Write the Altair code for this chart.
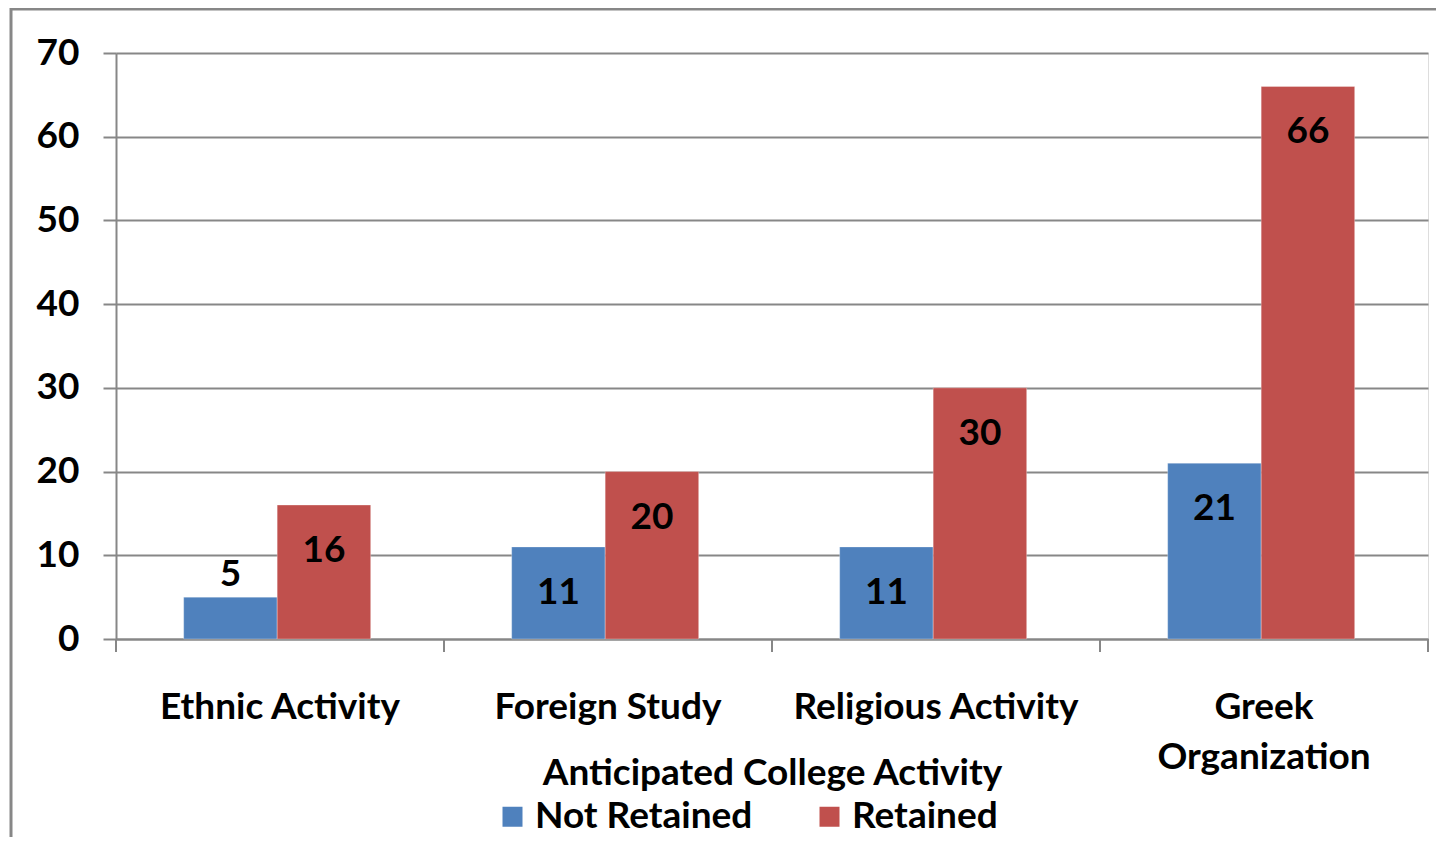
import altair as alt
import pandas as pd

categories = ["Ethnic Activity", "Foreign Study", "Religious Activity", "Greek Organization"]
series = ["Not Retained", "Retained"]
not_retained = [5, 11, 11, 21]
retained = [16, 20, 30, 66]
y_ticks = [0, 10, 20, 30, 40, 50, 60, 70]
colors = ["#4F81BD", "#C0504D"]
x_title = "Anticipated College Activity"

rows = []
for c, a, b in zip(categories, not_retained, retained):
    rows.append({"category": c, "series": series[0], "value": a})
    rows.append({"category": c, "series": series[1], "value": b})
df = pd.DataFrame(rows)
cat_df = pd.DataFrame({"category": categories})
last_df = pd.DataFrame({"category": categories[-1:]})

FONT = "Lato"
GRAY = "#878787"
FS = 37

x_scale = alt.Scale(domain=categories, paddingInner=0, paddingOuter=0)
x_axis = alt.Axis(
    title=x_title, labelAngle=0, ticks=False, tickSize=0,
    labelExpr="datum.label == 'Greek Organization' ? ['Greek', 'Organization'] : datum.label",
    labelLineHeight=50, labelPadding=50, labelFont=FONT, labelFontSize=FS,
    labelFontWeight="bold", labelColor="black", labelLimit=400,
    domainColor=GRAY, domainWidth=2,
    titleFont=FONT, titleFontSize=FS, titleFontWeight="bold", titleColor="black",
    titleY=134, titleBaseline="middle",
)
y_axis = alt.Axis(
    values=y_ticks, title=None, grid=True, gridColor=GRAY, gridWidth=2,
    tickColor=GRAY, tickWidth=2, tickSize=13, domainColor=GRAY, domainWidth=2,
    labelPadding=24, labelFont=FONT, labelFontSize=FS, labelFontWeight="bold",
    labelColor="black",
)

def xenc(**kw):
    return alt.X("category:N", sort=categories, scale=x_scale, axis=x_axis, **kw)

y_enc = alt.Y("value:Q", scale=alt.Scale(domain=[0, 70]), axis=y_axis)
xoff = alt.XOffset(
    "series:N", sort=series,
    scale=alt.Scale(paddingInner=0, paddingOuter=0.754, align=0.48),
)

bars = alt.Chart(df).mark_bar(stroke="white", strokeWidth=0.5, strokeOpacity=0.6).encode(
    x=xenc(),
    xOffset=xoff,
    y=y_enc,
    color=alt.Color(
        "series:N",
        scale=alt.Scale(domain=series, range=colors),
        legend=alt.Legend(
            orient="none", legendX=378, legendY=745, direction="horizontal",
            title=None, symbolType="square", symbolSize=400, symbolStrokeWidth=0,
            symbolOpacity=1, labelFont=FONT, labelFontSize=FS, labelFontWeight="bold",
            labelColor="black", labelOffset=4, columnPadding=58, padding=0,
            labelLimit=400,
        ),
    ),
)

label_inside = alt.Chart(df).transform_filter("datum.value >= 10").mark_text(
    font=FONT, fontSize=FS, fontWeight="bold", color="black", baseline="middle", dy=46
).encode(x=xenc(), xOffset=xoff, y=y_enc, text=alt.Text("value:Q"))

label_above = alt.Chart(df).transform_filter("datum.value < 10").mark_text(
    font=FONT, fontSize=FS, fontWeight="bold", color="black", baseline="middle", dy=-22
).encode(x=xenc(), xOffset=xoff, y=y_enc, text=alt.Text("value:Q"))

ticks_start = alt.Chart(cat_df).mark_rule(color=GRAY, strokeWidth=2).encode(
    x=xenc(bandPosition=0), y=alt.value(586), y2=alt.value(599)
)
ticks_end = alt.Chart(last_df).mark_rule(color=GRAY, strokeWidth=2).encode(
    x=xenc(bandPosition=1), y=alt.value(586), y2=alt.value(599)
)

border = alt.Chart(pd.DataFrame({"a": [0]})).mark_rect(
    fill="transparent", stroke=GRAY, strokeWidth=3
).encode(
    x=alt.value(-105), x2=alt.value(2000), y=alt.value(-44), y2=alt.value(900)
)

chart = alt.layer(border, bars, label_inside, label_above, ticks_start, ticks_end).properties(
    width=1312, height=586,
    autosize=alt.AutoSizeParams(type="none"),
    padding={"left": 108, "top": 45, "right": 8, "bottom": 198},
).configure_view(stroke=None).configure(background="white")

chart.save("out.html", embed_options={"renderer": "svg", "actions": False})
